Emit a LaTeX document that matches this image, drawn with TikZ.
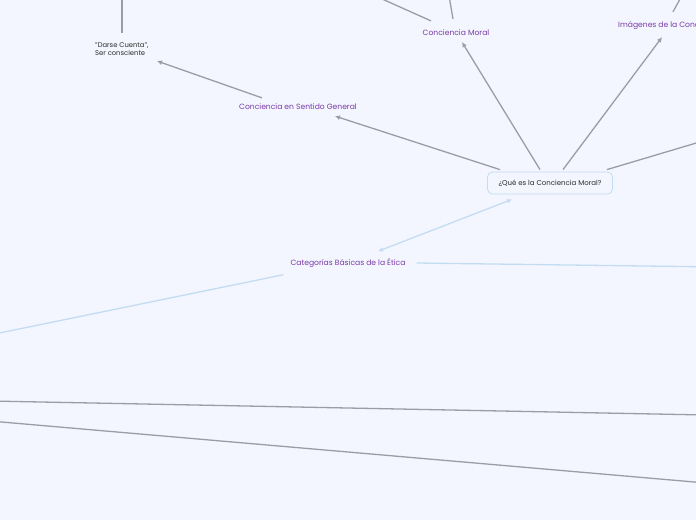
\documentclass[tikz,border=0pt]{standalone}
\usepackage{fontspec}
\setmainfont{Poppins}
\usetikzlibrary{positioning, arrows.meta}
\definecolor{canvas}{HTML}{F3F6FE}
\definecolor{linkgray}{HTML}{9A9DA6}
\definecolor{linkblue}{HTML}{C4DCF2}
\definecolor{topicpurple}{HTML}{7A3AA6}
\definecolor{notetext}{HTML}{2B2B2B}

\begin{document}
\begin{tikzpicture}[x=1pt, y=-1pt,
    topic/.style={text=topicpurple, font=\fontsize{7.6}{8}\selectfont, inner sep=1pt},
    note/.style={text=notetext, font=\fontsize{6.8}{8.5}\selectfont, align=left, inner sep=1pt},
    rootbox/.style={draw=linkblue, line width=0.8pt, rounded corners=5pt, fill=canvas,
      text=notetext, font=\fontsize{7}{8}\selectfont, minimum width=125pt, minimum height=22pt},
    graylink/.style={draw=linkgray, line width=1.3pt},
    bluelink/.style={draw=linkblue, line width=1.3pt},
    tip/.style={-{Latex[length=5pt, width=5pt]}}]
  \fill[canvas] (0,0) rectangle (696,520);
  \clip (0,0) rectangle (696,520);

  % nodes
  \node[rootbox] (root) at (550,183) {¿Qué es la Conciencia Moral?};
  \node[topic] (general) at (298,107) {Conciencia en Sentido General};
  \node[topic] (moral) at (456,33) {Conciencia Moral};
  \node[topic, anchor=west] (images) at (617,26) {Imágenes de la Conc};
  \node[topic] (categories) at (348,263) {Categorías Básicas de la Ética};
  \node[note, anchor=north west] (aware) at (94,41) {"Darse Cuenta",\\Ser consciente};

  % free ends outside the canvas
  \coordinate (offaware) at (122,-10);
  \coordinate (offmoralA) at (362,-10);
  \coordinate (offmoralB) at (448,-10);
  \coordinate (offimages) at (685,-10);
  \coordinate (offroot) at (740,130);
  \coordinate (offcatL) at (-20,337);
  \coordinate (offcatR) at (720,267);
  \coordinate (lowAw) at (-10,401);
  \coordinate (lowAe) at (706,415);
  \coordinate (lowBw) at (-10,421);
  \coordinate (lowBe) at (706,483);

  % links from the root
  \draw[graylink, tip] ([xshift=-50pt, yshift=2pt]root.north) -- ([xshift=37pt, yshift=-5pt]general.south);
  \draw[graylink, tip] ([xshift=-10pt, yshift=2pt]root.north) -- ([xshift=6pt, yshift=-5pt]moral.south);
  \draw[graylink, tip] ([xshift=13pt, yshift=2pt]root.north) -- ([xshift=45pt, yshift=-6pt]images.south west);
  \draw[graylink] ([xshift=-6pt, yshift=2pt]root.north east) -- (offroot);
  \draw[bluelink, {Latex[length=5pt, width=5pt]}-{Latex[length=5pt, width=5pt]}]
    ([xshift=30pt, yshift=6pt]categories.north) -- ([xshift=-38pt, yshift=-5pt]root.south);

  % second level
  \draw[graylink, tip] ([xshift=-36pt, yshift=5pt]general.north) -- ([xshift=63pt, yshift=-20pt]aware.north west);
  \draw[graylink] ([xshift=28pt, yshift=8pt]aware.north west) -- (offaware);
  \draw[graylink] ([xshift=-25pt, yshift=8pt]moral.north) -- (offmoralA);
  \draw[graylink] ([xshift=-3pt, yshift=10pt]moral.north) -- (offmoralB);
  \draw[graylink] ([xshift=56pt, yshift=9pt]images.north west) -- (offimages);
  \draw[bluelink] ([xshift=-6pt, yshift=-6pt]categories.south west) -- (offcatL);
  \draw[bluelink] ([xshift=10pt]categories.east) -- (offcatR);

  % long links crossing the lower part
  \draw[graylink] (lowAw) -- (lowAe);
  \draw[graylink] (lowBw) -- (lowBe);
\end{tikzpicture}
\end{document}
